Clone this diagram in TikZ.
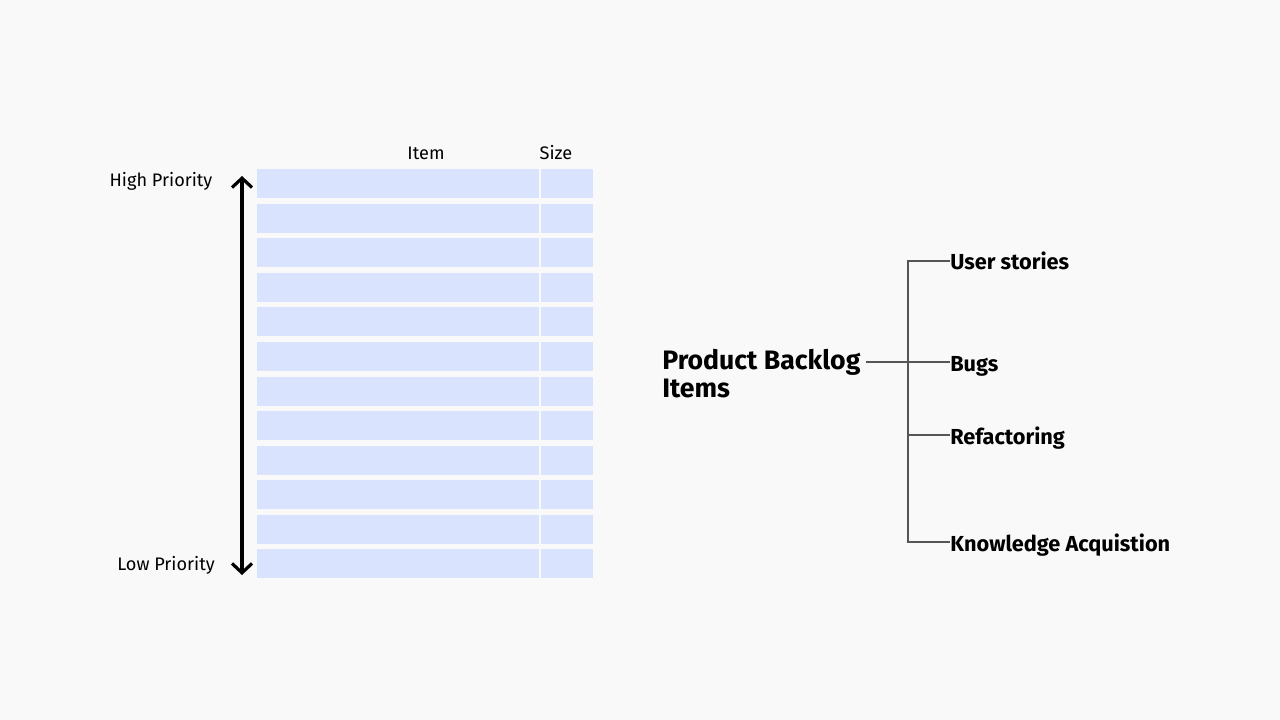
\documentclass[tikz,border=0pt]{standalone}
\usepackage{fontspec}
\setmainfont{Fira Sans}
\usetikzlibrary{arrows.meta}
\definecolor{bg}{HTML}{F9F9F9}
\definecolor{rowc}{HTML}{D9E3FD}
\definecolor{linec}{HTML}{555555}
\begin{document}
\begin{tikzpicture}[x=0.75pt,y=-0.75pt,
  cellitem/.style={fill=rowc,draw=none,minimum width=282*0.75pt,minimum height=29*0.75pt,inner sep=0pt,anchor=north west},
  cellsize/.style={fill=rowc,draw=none,minimum width=52.5*0.75pt,minimum height=29*0.75pt,inner sep=0pt,anchor=north west},
  lbl/.style={font=\fontsize{13.6pt}{16pt}\selectfont,inner sep=0pt,anchor=base},
  branch/.style={font=\bfseries\fontsize{16.3pt}{19pt}\selectfont,inner sep=0pt,anchor=base west},
  tree/.style={draw=linec,line width=0.8pt}]
\fill[bg] (0,0) rectangle (1280,720);
\useasboundingbox (0,0) rectangle (1280,720);
\foreach \i in {1,...,12}{
  \pgfmathsetmacro{\yy}{169+(\i-1)*34.55}
  \node[cellitem] (r\i) at (257,\yy) {};
  \node[cellsize] (s\i) at (540.5,\yy) {};
}
\node[lbl] (hitem) at (426,160) {Item};
\node[lbl] (hsize) at (556,160) {Size};
\node[lbl] (hp) at (161,187) {High Priority};
\node[lbl] (lp) at (166,570) {Low Priority};
\coordinate (atop) at (242,176);
\coordinate (abot) at (242,575);
\draw[line width=2.4pt,{Straight Barb[length=7pt,width=15pt,line width=2.4pt]}-{Straight Barb[length=7pt,width=15pt,line width=2.4pt]}] (atop) -- (abot);
\node[font=\bfseries\fontsize{20pt}{21pt}\selectfont,align=left,anchor=north west,inner sep=0pt] (pbi) at (662,349) {Product Backlog\\Items};
\node[branch] (us) at (950,269) {User stories};
\node[branch] (bug) at (950,371) {Bugs};
\node[branch] (ref) at (950,444) {Refactoring};
\node[branch] (ka) at (950,551) {Knowledge Acquistion};
\coordinate (root) at (866,362);
\coordinate (jt) at (908,261);
\coordinate (jm) at (908,435);
\coordinate (jb) at (908,542);
\draw[tree] (root) -- (root -| bug.west);
\draw[tree] (jt -| us.west) -- (jt) -- (jb) -- (jb -| ka.west);
\draw[tree] (jm) -- (jm -| ref.west);
\end{tikzpicture}
\end{document}
